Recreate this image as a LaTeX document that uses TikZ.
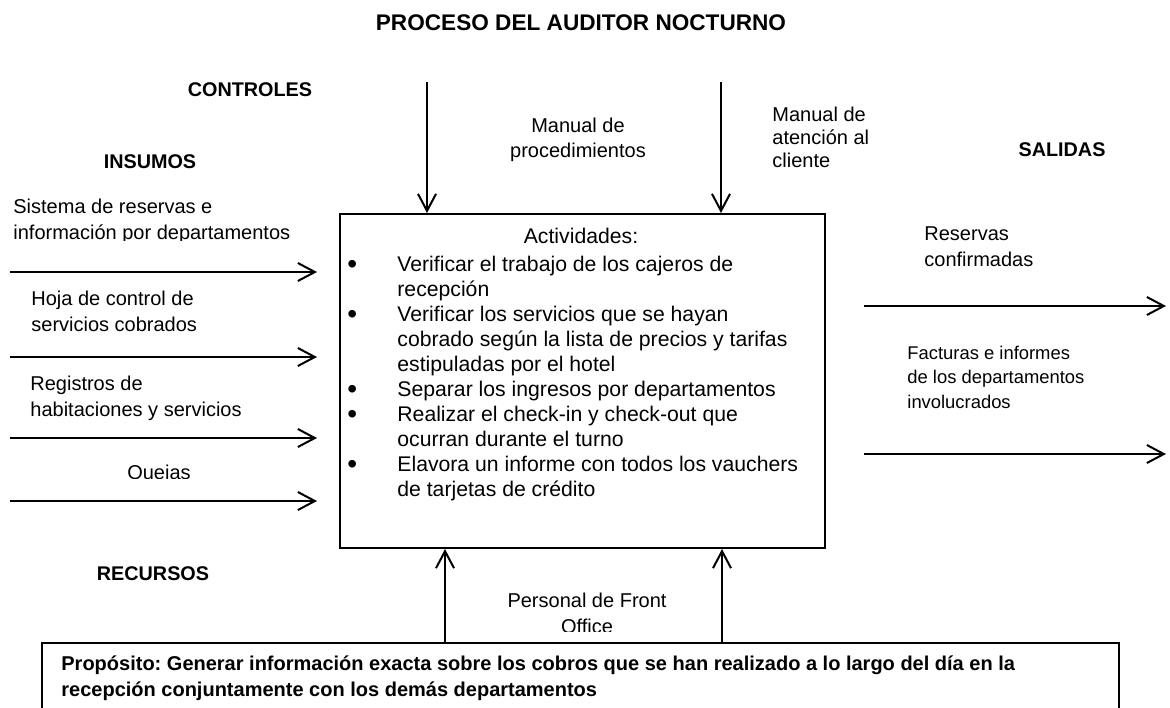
\documentclass[tikz,border=0pt]{standalone}
\usepackage{fontspec}
\setmainfont{Liberation Sans}
\frenchspacing
\usetikzlibrary{arrows.meta}
\newcommand{\actFont}{\fontsize{10.6}{12.5}\selectfont}
\newcommand{\tagFont}{\fontsize{10}{13}\selectfont}
\newcommand{\actDot}{\raisebox{-1pt}{\fontsize{14}{12.5}\selectfont\textbullet}}
\tikzset {
	heading/.style={inner sep=0pt, font=\fontsize{9.9}{12}\selectfont\bfseries},
	tag/.style={inner sep=0pt, align=left, font=\tagFont},
	centerTag/.style={inner sep=0pt, align=center, font=\tagFont},
	flow/.style={line width=1pt, -{Straight Barb[length=8.5pt,width=9pt]}},
	process/.style={rectangle, draw, line width=1pt, anchor=north west,
					minimum width=242.5pt, minimum height=167pt},
	purposeBox/.style={rectangle, draw, line width=0.8pt, fill=white, anchor=north west,
					minimum width=538.5pt, minimum height=80pt}
}

\begin{document}
\begin{tikzpicture}[x=0.5pt, y=-0.5pt]
					\useasboundingbox (0,0) rectangle (1170,707);
					\clip (0,0) rectangle (1170,707);
					\node [inner sep=0pt, font=\fontsize{11.3}{13}\selectfont\bfseries] (title) at (581,23) {PROCESO DEL AUDITOR NOCTURNO};
					\node [heading] (controles) at (250,90) {CONTROLES};
					\node [heading] (insumos) at (150,162) {INSUMOS};
					\node [heading] (salidas) at (1062,150) {SALIDAS};
					\node [heading] (recursos) at (153,574) {RECURSOS};
					\node [process] (proc) at (339,213) {};
					\node [inner sep=0pt, font=\actFont] (actHead) at (581,236) {Actividades:};
					\node [inner sep=0pt, font=\actFont, anchor=base west] (actList) at (347,271) {%
						\begin{tabular}[t]{@{}p{25pt}@{}l@{}}
						\actDot & Verificar el trabajo de los cajeros de\\
						& recepción\\
						\actDot & Verificar los servicios que se hayan\\
						& cobrado según la lista de precios y tarifas\\
						& estipuladas por el hotel\\
						\actDot & Separar los ingresos por departamentos\\
						\actDot & Realizar el check-in y check-out que\\
						& ocurran durante el turno\\
						\actDot & Elavora un informe con todos los vauchers\\
						& de tarjetas de crédito
						\end{tabular}};
					% controles
					\coordinate (ctlA) at (427,82);
					\coordinate (ctlB) at (721,82);
					\draw [flow] (ctlA) -- (ctlA |- proc.north);
					\draw [flow] (ctlB) -- (ctlB |- proc.north);
					\node [centerTag, font=\fontsize{10}{12.5}\selectfont] (manProc) at (578,140) {Manual de\\procedimientos};
					\node [tag, anchor=west, font=\fontsize{10}{11.5}\selectfont] (manClient) at (772,137) {Manual de\\atención al\\cliente};
					% insumos
					\begin{scope}
						\clip (0,180) rectangle (330,240);
						\node [tag, anchor=west] (inSys) at (13,221) {Sistema de reservas e\\información por departamentos};
					\end{scope}
					\node [tag, anchor=west] (inHoja) at (31,311) {Hoja de control de\\servicios cobrados};
					\node [tag, anchor=west] (inReg) at (30,398) {Registros de\\habitaciones y servicios};
					\begin{scope}
						\clip (0,450) rectangle (330,478);
						\node [tag] (inQuejas) at (159,474) {Quejas};
					\end{scope}
					\coordinate (inA) at (10,272);
					\coordinate (inB) at (10,357);
					\coordinate (inC) at (10,438);
					\coordinate (inD) at (10,501);
					\foreach \c in {inA,inB,inC,inD}
						\draw [flow, shorten >=11pt] (\c) -- (\c -| proc.west);
					% salidas
					\node [tag, anchor=west] (outRes) at (924,247) {Reservas\\confirmadas};
					\node [tag, anchor=west, font=\fontsize{9.2}{12.25}\selectfont] (outFact) at (907,377) {Facturas e informes\\de los departamentos\\involucrados};
					\coordinate (outA) at (1166,306);
					\coordinate (outB) at (1166,454);
					\draw [flow, shorten <=19pt] (outA -| proc.east) -- (outA);
					\draw [flow, shorten <=19pt] (outB -| proc.east) -- (outB);
					% recursos
					\coordinate (resA) at (445,642);
					\coordinate (resB) at (722,642);
					\draw [flow] (resA) -- (resA |- proc.south);
					\draw [flow] (resB) -- (resB |- proc.south);
					\begin{scope}
						\clip (450,570) rectangle (715,631);
						\node [centerTag] (persFO) at (587,613) {Personal de Front\\Office};
					\end{scope}
					\node [purposeBox] (purpose) at (41,642) {};
					\node [tag, anchor=west, font=\tagFont\bfseries] (purposeTxt) at (61,678) {Propósito: Generar información exacta sobre los cobros que se han realizado a lo largo del día en la\\recepción conjuntamente con los demás departamentos};
					\end{tikzpicture}
\end{document}
